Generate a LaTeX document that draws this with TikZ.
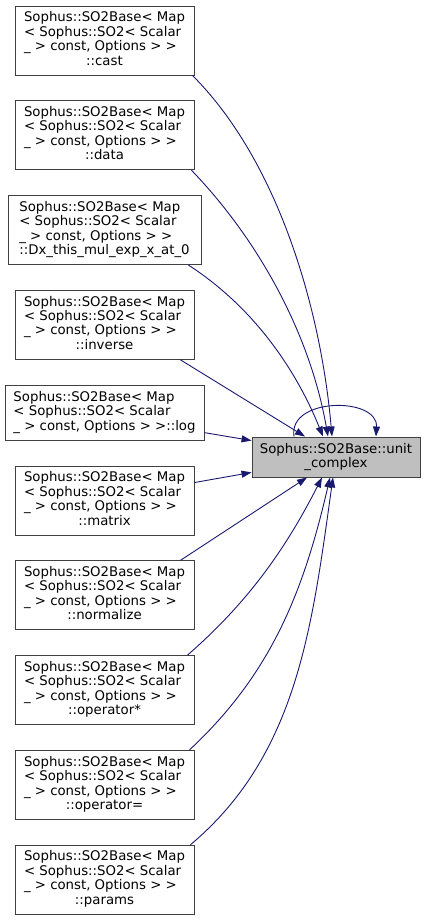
\documentclass[tikz,border=0pt]{standalone}
\usepackage{fontspec}
\setmainfont{DejaVu Sans}
\usepackage{xcolor}
\usepackage{tikz}
\usetikzlibrary{arrows.meta}
\usetikzlibrary{positioning}
\definecolor{edgeblue}{RGB}{25,25,112}
\newcommand{\sophuslabel}[1]{\begin{tabular}{@{}l@{}}Sophus::SO2Base< Map\\< Sophus::SO2< Scalar\\\_ > const, Options > >\\\multicolumn{1}{@{}c@{}}{#1}\end{tabular}}
\begin{document}
\begin{tikzpicture}[node distance=24.9pt]
			\tikzstyle{every node}=[draw=black!75,line width=0.9pt,rectangle,fill=white,inner sep=0pt,font=\fontsize{13.3pt}{14.4pt}\selectfont]
			\tikzstyle{srcbox}=[minimum width=179pt,minimum height=69pt]
			\tikzstyle{callarrow}=[->,>={Triangle[length=10pt,width=7pt]},draw=edgeblue,line width=0.9pt]
			\useasboundingbox (0,0) rectangle (425pt,920pt);

			\node (cast) [srcbox] at (104.5pt,879.5pt) {\sophuslabel{::cast}};
			\node (data) [srcbox,below=of cast] {\sophuslabel{::data}};
			\node (dxmul) [srcbox,minimum width=193pt,below=of data] {\sophuslabel{::Dx\_this\_mul\_exp\_x\_at\_0}};
			\node (inverse) [srcbox,below=of dxmul] {\sophuslabel{::inverse}};
			\node (logm) [srcbox,minimum width=199pt,minimum height=55pt,below=of inverse] {\begin{tabular}{@{}l@{}}Sophus::SO2Base< Map\\< Sophus::SO2< Scalar\\\multicolumn{1}{@{}c@{}}{\_ > const, Options > >::log}\end{tabular}};
			\node (matrix) [srcbox,below=of logm] {\sophuslabel{::matrix}};
			\node (normalize) [srcbox,below=of matrix] {\sophuslabel{::normalize}};
			\node (opmul) [srcbox,below=of normalize] {\sophuslabel{::operator*}};
			\node (opassign) [srcbox,below=of opmul] {\sophuslabel{::operator=}};
			\node (params) [srcbox,below=of opassign] {\sophuslabel{::params}};

			\node (unitc) [fill=black!25,minimum width=168pt,minimum height=40pt,align=center] at (336pt,463pt) {Sophus::SO2Base::unit\\\_complex};

			% callers above the function
			\draw[callarrow] ([xshift=-2pt]cast.south east) .. controls +(-45:120pt) and +(95:130pt) .. ([xshift=-4pt]unitc.north);
			\draw[callarrow] ([xshift=-3pt]data.south east) .. controls +(-46:90pt) and +(100:110pt) .. ([xshift=-8pt]unitc.north);
			\draw[callarrow] ([xshift=-13pt]dxmul.south east) .. controls +(-33:80pt) and +(112:70pt) .. ([xshift=-13pt]unitc.north);
			\draw[callarrow] ([xshift=-14pt]inverse.south east) -- ([xshift=-31pt]unitc.north);
			\draw[callarrow] ([yshift=8pt]logm.south east) -- ([yshift=-4pt]unitc.north west);
			% callers below the function
			\draw[callarrow] ([yshift=-17pt]matrix.north east) -- ([yshift=5pt]unitc.south west);
			\draw[callarrow] ([xshift=-14pt]normalize.north east) -- ([xshift=-29pt]unitc.south);
			\draw[callarrow] ([xshift=-7pt]opmul.north east) .. controls +(41:80pt) and +(-117:80pt) .. ([xshift=-14pt]unitc.south);
			\draw[callarrow] ([xshift=-5pt]opassign.north east) .. controls +(43:110pt) and +(-103:120pt) .. ([xshift=-6pt]unitc.south);
			\draw[callarrow] ([xshift=-4pt]params.north east) .. controls +(40:140pt) and +(-98:150pt) .. ([xshift=-3pt]unitc.south);
			% self call
			\draw[callarrow] ([xshift=-42pt]unitc.north) .. controls +(99:40pt) and +(87:40pt) .. ([xshift=40pt]unitc.north);

		\end{tikzpicture}
\end{document}
